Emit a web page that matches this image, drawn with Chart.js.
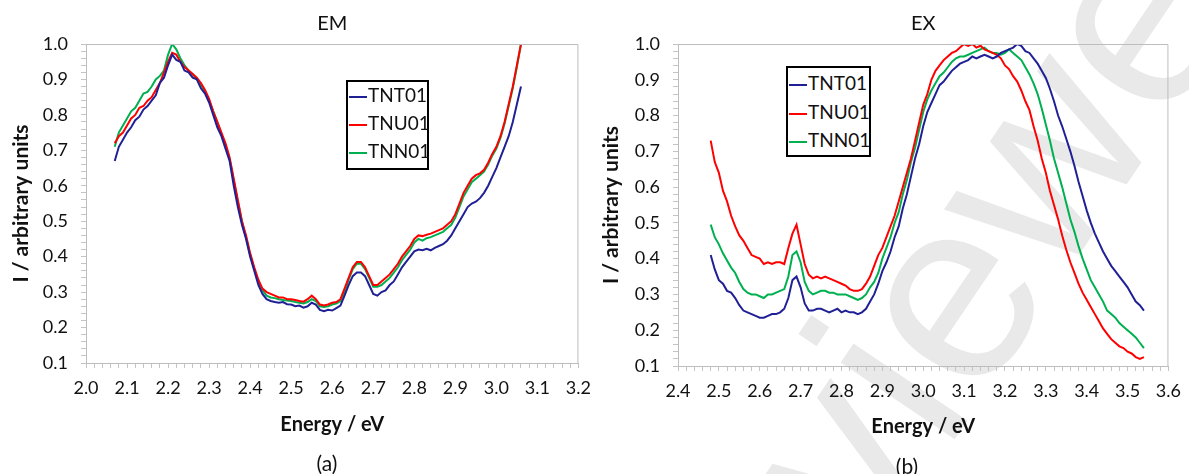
<!DOCTYPE html>
<html>
<head>
<meta charset="utf-8">
<script src="https://cdn.jsdelivr.net/npm/chart.js@4.4.1/dist/chart.umd.min.js"></script>
<style>
  html, body { margin:0; padding:0; background:#fff; overflow:hidden; }
  #wrap { position:relative; width:1189px; height:474px; font-family: Lato, "Open Sans", sans-serif; color:#111; }
  .cv { position:absolute; top:0; }
  .legend { position:absolute; background:#fff; border:2px solid #000; box-sizing:border-box; font-size:19px; }
  .legend .row { position:absolute; left:1px; height:22px; line-height:22px; white-space:nowrap; }
  .legend .ln { display:inline-block; width:18px; height:2px; vertical-align:middle; margin-right:1px; }
  .cap { position:absolute; font-size:21px; transform:translate(-50%,-50%); }
</style>
</head>
<body>
<div id="wrap">
  <canvas id="wm" class="cv" width="1189" height="474" style="left:0"></canvas>
  <canvas id="c1" class="cv" width="600" height="474" style="left:0"></canvas>
  <canvas id="c2" class="cv" width="600" height="474" style="left:590px"></canvas>
  <div id="lg1" class="legend" style="left:346px;top:80px;width:83px;height:90px"></div>
  <div id="lg2" class="legend" style="left:786px;top:66px;width:85px;height:91px"></div>
  <div class="cap" style="left:327px;top:462px">(a)</div>
  <div class="cap" style="left:907px;top:465px">(b)</div>
</div>
<script>
// ---------- DATA ----------
const seriesNames = ['TNT01', 'TNU01', 'TNN01'];
const seriesColors = ['#202096', '#ff0000', '#00b050'];
const panelTitles = ['EM', 'EX'];
const panelCaptions = ['(a)', '(b)'];
const watermarkText = 'Not Peer-reviewed';

// EM panel (a): energy in eV, step 0.01 from 2.07 to 3.06
const emEnergy = [2.07,2.08,2.09,2.10,2.11,2.12,2.13,2.14,2.15,2.16,2.17,2.18,2.19,2.20,2.21,2.22,2.23,2.24,2.25,2.26,2.27,2.28,2.29,2.30,2.31,2.32,2.33,2.34,2.35,2.36,2.37,2.38,2.39,2.40,2.41,2.42,2.43,2.44,2.45,2.46,2.47,2.48,2.49,2.50,2.51,2.52,2.53,2.54,2.55,2.56,2.57,2.58,2.59,2.60,2.61,2.62,2.63,2.64,2.65,2.66,2.67,2.68,2.69,2.70,2.71,2.72,2.73,2.74,2.75,2.76,2.77,2.78,2.79,2.80,2.81,2.82,2.83,2.84,2.85,2.86,2.87,2.88,2.89,2.90,2.91,2.92,2.93,2.94,2.95,2.96,2.97,2.98,2.99,3.00,3.01,3.02,3.03,3.04,3.05,3.06];
const emTNT01 = [0.67,0.71,0.73,0.75,0.765,0.785,0.795,0.815,0.825,0.84,0.855,0.89,0.905,0.94,0.97,0.955,0.95,0.925,0.92,0.905,0.90,0.875,0.86,0.835,0.80,0.765,0.74,0.705,0.67,0.60,0.54,0.49,0.45,0.40,0.36,0.32,0.295,0.28,0.275,0.272,0.27,0.272,0.266,0.265,0.26,0.262,0.256,0.26,0.27,0.265,0.25,0.246,0.25,0.248,0.255,0.262,0.29,0.32,0.345,0.355,0.355,0.345,0.32,0.295,0.29,0.30,0.305,0.32,0.33,0.35,0.37,0.385,0.40,0.415,0.42,0.418,0.422,0.418,0.425,0.43,0.435,0.445,0.46,0.48,0.50,0.52,0.54,0.55,0.555,0.565,0.58,0.60,0.625,0.65,0.68,0.71,0.74,0.78,0.83,0.88];
const emTNU01 = [0.72,0.74,0.75,0.77,0.79,0.80,0.82,0.825,0.84,0.85,0.87,0.89,0.92,0.95,0.975,0.97,0.95,0.935,0.925,0.915,0.905,0.89,0.87,0.845,0.81,0.78,0.75,0.72,0.68,0.62,0.56,0.50,0.46,0.41,0.37,0.335,0.31,0.30,0.295,0.29,0.285,0.285,0.28,0.28,0.278,0.275,0.273,0.28,0.29,0.28,0.265,0.262,0.265,0.27,0.272,0.28,0.31,0.34,0.37,0.385,0.385,0.37,0.345,0.32,0.32,0.33,0.34,0.35,0.365,0.38,0.40,0.415,0.43,0.45,0.46,0.458,0.462,0.465,0.47,0.475,0.48,0.49,0.50,0.52,0.55,0.58,0.60,0.62,0.63,0.635,0.645,0.665,0.69,0.71,0.74,0.78,0.83,0.88,0.94,1.0];
const emTNN01 = [0.71,0.75,0.77,0.79,0.81,0.82,0.84,0.86,0.865,0.88,0.90,0.91,0.925,0.97,1.0,0.985,0.96,0.94,0.925,0.915,0.90,0.885,0.865,0.84,0.81,0.78,0.745,0.715,0.675,0.615,0.555,0.50,0.455,0.405,0.365,0.33,0.305,0.29,0.285,0.283,0.28,0.278,0.276,0.275,0.272,0.27,0.268,0.272,0.28,0.275,0.26,0.258,0.26,0.265,0.268,0.275,0.30,0.335,0.365,0.38,0.38,0.365,0.34,0.315,0.315,0.32,0.33,0.34,0.355,0.37,0.39,0.405,0.42,0.44,0.45,0.445,0.452,0.455,0.46,0.465,0.47,0.48,0.49,0.51,0.54,0.57,0.59,0.61,0.62,0.63,0.64,0.66,0.685,0.705,0.735,0.775,0.825,0.875,0.935,1.0];

// EX panel (b): energy in eV, step 0.01 from 2.48 to 3.54
const exEnergy = [2.48,2.49,2.50,2.51,2.52,2.53,2.54,2.55,2.56,2.57,2.58,2.59,2.60,2.61,2.62,2.63,2.64,2.65,2.66,2.67,2.68,2.69,2.70,2.71,2.72,2.73,2.74,2.75,2.76,2.77,2.78,2.79,2.80,2.81,2.82,2.83,2.84,2.85,2.86,2.87,2.88,2.89,2.90,2.91,2.92,2.93,2.94,2.95,2.96,2.97,2.98,2.99,3.00,3.01,3.02,3.03,3.04,3.05,3.06,3.07,3.08,3.09,3.10,3.11,3.12,3.13,3.14,3.15,3.16,3.17,3.18,3.19,3.20,3.21,3.22,3.23,3.24,3.25,3.26,3.27,3.28,3.29,3.30,3.31,3.32,3.33,3.34,3.35,3.36,3.37,3.38,3.39,3.40,3.41,3.42,3.43,3.44,3.45,3.46,3.47,3.48,3.49,3.50,3.51,3.52,3.53,3.54];
const exTNT01 = [0.41,0.37,0.34,0.33,0.31,0.305,0.29,0.27,0.255,0.25,0.245,0.24,0.235,0.235,0.24,0.245,0.245,0.25,0.26,0.29,0.34,0.35,0.32,0.275,0.255,0.255,0.26,0.26,0.255,0.25,0.255,0.26,0.25,0.255,0.25,0.25,0.245,0.25,0.26,0.28,0.30,0.33,0.365,0.39,0.42,0.46,0.49,0.54,0.58,0.63,0.68,0.72,0.77,0.81,0.835,0.86,0.885,0.895,0.91,0.925,0.935,0.945,0.95,0.955,0.965,0.96,0.965,0.97,0.965,0.96,0.965,0.975,0.98,0.985,0.99,1.0,0.995,0.98,0.975,0.96,0.945,0.925,0.905,0.875,0.84,0.80,0.77,0.735,0.70,0.66,0.615,0.575,0.535,0.50,0.47,0.445,0.42,0.40,0.38,0.365,0.35,0.335,0.32,0.30,0.28,0.27,0.255];
const exTNU01 = [0.73,0.67,0.64,0.59,0.56,0.52,0.49,0.465,0.45,0.43,0.41,0.405,0.40,0.385,0.39,0.385,0.39,0.39,0.385,0.43,0.47,0.495,0.44,0.385,0.355,0.345,0.35,0.345,0.35,0.345,0.34,0.335,0.33,0.325,0.315,0.31,0.31,0.315,0.33,0.35,0.38,0.41,0.43,0.46,0.49,0.52,0.56,0.60,0.64,0.68,0.73,0.78,0.83,0.86,0.90,0.925,0.94,0.955,0.965,0.975,0.98,0.99,1.0,0.995,1.0,0.99,0.995,0.985,0.98,0.975,0.97,0.96,0.94,0.93,0.91,0.895,0.87,0.84,0.815,0.77,0.73,0.68,0.64,0.59,0.55,0.51,0.465,0.425,0.39,0.36,0.33,0.305,0.285,0.265,0.245,0.225,0.205,0.19,0.175,0.165,0.155,0.15,0.14,0.135,0.125,0.12,0.125];
const exTNN01 = [0.495,0.46,0.44,0.415,0.395,0.375,0.36,0.335,0.315,0.305,0.30,0.30,0.295,0.29,0.30,0.30,0.305,0.31,0.315,0.35,0.41,0.42,0.39,0.335,0.31,0.30,0.305,0.31,0.31,0.305,0.305,0.30,0.30,0.30,0.295,0.29,0.285,0.29,0.30,0.32,0.335,0.36,0.40,0.43,0.46,0.50,0.53,0.58,0.62,0.67,0.71,0.76,0.81,0.845,0.87,0.89,0.91,0.92,0.935,0.95,0.96,0.965,0.965,0.97,0.975,0.98,0.985,0.99,0.98,0.975,0.975,0.97,0.975,0.985,0.975,0.965,0.955,0.935,0.915,0.89,0.86,0.82,0.775,0.73,0.68,0.64,0.60,0.555,0.51,0.475,0.435,0.40,0.37,0.34,0.32,0.30,0.28,0.255,0.245,0.235,0.22,0.21,0.20,0.19,0.18,0.165,0.15];

// axis ranges / tick steps
const emXRange = [2.0, 3.2];
const exXRange = [2.4, 3.6];
const yRange = [0.1, 1.0];
const minorStep = 0.02;

// ---------- CHARTS ----------
const FONT = 'Lato, "Open Sans", sans-serif';
const TEXT = '#111111';

function majorLabel(value) {
  const v = Math.round(value * 100);
  return v % 10 === 0 ? (v / 100).toFixed(1) : '';
}

const frameBorder = {
  id: 'frameBorder',
  afterDatasetsDraw(chart) {
    const a = chart.chartArea, ctx = chart.ctx;
    ctx.save();
    ctx.strokeStyle = '#bdbdbd';
    ctx.lineWidth = 1;
    ctx.beginPath();
    ctx.moveTo(a.left, a.top + 0.5);
    ctx.lineTo(a.right - 0.5, a.top + 0.5);
    ctx.lineTo(a.right - 0.5, a.bottom);
    ctx.stroke();
    ctx.restore();
  }
};

function makeChart(id, title, energy, seriesList, xRange, cfg) {
  const datasets = seriesList.map((vals, i) => ({
    label: seriesNames[i],
    data: energy.map((x, j) => ({ x: x, y: vals[j] })),
    borderColor: seriesColors[i],
    backgroundColor: seriesColors[i],
    borderWidth: 2,
    pointRadius: 0,
    tension: 0,
    fill: false
  }));
  return new Chart(document.getElementById(id), {
    type: 'line',
    data: { datasets },
    plugins: [frameBorder],
    options: {
      responsive: false,
      animation: false,
      devicePixelRatio: 1,
      layout: { padding: { left: 0, top: 0, right: cfg.padRight, bottom: cfg.padBottom } },
      plugins: {
        legend: { display: false },
        tooltip: { enabled: false },
        title: {
          display: true, text: title, fullSize: false,
          color: TEXT, font: { family: FONT, size: 20, weight: 'normal' },
          padding: { top: 12, bottom: 8 }
        }
      },
      scales: {
        x: {
          type: 'linear', min: xRange[0], max: xRange[1],
          afterFit(s) { s.height = cfg.xHeight; },
          ticks: {
            stepSize: minorStep, maxTicksLimit: 1000, autoSkip: false, maxRotation: 0,
            padding: 9, color: TEXT, font: { family: FONT, size: 18 },
            callback: majorLabel
          },
          grid: { display: true, drawOnChartArea: false, drawTicks: true, tickLength: 5, color: '#c4c4c4' },
          border: { display: true, color: '#bdbdbd' },
          title: {
            display: true, text: 'Energy / eV', color: TEXT,
            font: { family: FONT, size: 20, weight: 'bold' }, padding: { top: 0, bottom: 0 }
          }
        },
        y: {
          type: 'linear', min: yRange[0], max: yRange[1],
          afterFit(s) { s.width = cfg.yWidth; },
          ticks: {
            stepSize: minorStep, maxTicksLimit: 1000, autoSkip: false,
            padding: 13, color: TEXT, font: { family: FONT, size: 18 },
            callback: majorLabel
          },
          grid: { display: true, drawOnChartArea: false, drawTicks: true, tickLength: 5, color: '#c4c4c4' },
          border: { display: true, color: '#bdbdbd' },
          title: {
            display: true, text: 'I / arbitrary units', color: TEXT,
            font: { family: FONT, size: 21, weight: 'bold' }, padding: { top: 9, bottom: 0 }
          }
        }
      }
    }
  });
}

const chartEM = makeChart('c1', panelTitles[0], emEnergy, [emTNT01, emTNU01, emTNN01], emXRange,
  { padRight: 19, padBottom: 37, xHeight: 74, yWidth: 86 });
const chartEX = makeChart('c2', panelTitles[1], exEnergy, [exTNT01, exTNU01, exTNN01], exXRange,
  { padRight: 13, padBottom: 35, xHeight: 73, yWidth: 88 });

// HTML legends built from chart datasets
function buildLegend(chart, elId, rowCenters) {
  const el = document.getElementById(elId);
  const top = parseFloat(el.style.top);
  chart.data.datasets.forEach((ds, i) => {
    const row = document.createElement('div');
    row.className = 'row';
    row.style.top = (rowCenters[i] - top - 2 - 11) + 'px';
    const ln = document.createElement('span');
    ln.className = 'ln';
    ln.style.background = ds.borderColor;
    row.appendChild(ln);
    row.appendChild(document.createTextNode(ds.label));
    el.appendChild(row);
  });
}
buildLegend(chartEM, 'lg1', [95, 123, 151]);
buildLegend(chartEX, 'lg2', [83, 112, 140]);

// light diagonal watermark behind the charts
(function drawWatermark() {
  const cv = document.getElementById('wm');
  const ctx = cv.getContext('2d');
  const size = 260;
  ctx.font = size + 'px "Liberation Sans", Arial, sans-serif';
  const prefix = watermarkText.slice(0, watermarkText.indexOf('view'));
  const offset = ctx.measureText(prefix + 'v').width + ctx.measureText('i').width / 2;
  ctx.save();
  ctx.translate(905, 392);
  ctx.rotate(-56 * Math.PI / 180);
  ctx.fillStyle = '#e9e9e9';
  ctx.textBaseline = 'alphabetic';
  ctx.fillText(watermarkText, -offset, size * 0.26);
  ctx.restore();
})();
</script>
</body>
</html>
